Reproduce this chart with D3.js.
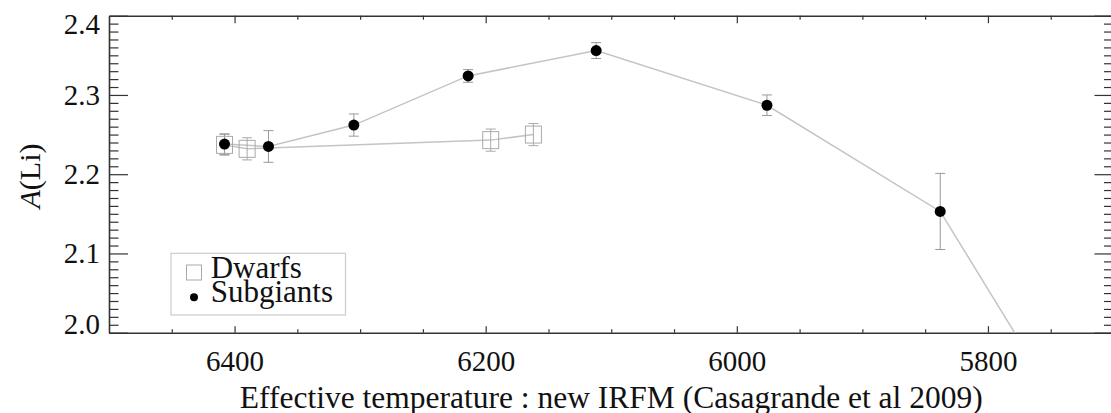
<!DOCTYPE html>
<html lang="en">
<meta charset="utf-8">
<head>
    <script src="https://d3js.org/d3.v7.min.js"></script>
    <style>
        body { margin: 0; background: #fff; }
        svg text { font-family: "Liberation Serif", "Times New Roman", serif; }
    </style>
</head>
<body>
<div id="chart"></div>
<script>
// Subgiants (filled circles) - last point falls below the plotted range
var subTeff = [6408, 6373, 6305, 6214, 6112, 5976, 5838, 5740];
var subALi  = [2.238, 2.235, 2.262, 2.324, 2.356, 2.287, 2.153, 1.90];
var subErr  = [0.013, 0.020, 0.014, 0.008, 0.010, 0.013, 0.048, 0.030];

// Dwarfs (open squares)
var dwTeff = [6408, 6390, 6196, 6162];
var dwALi  = [2.237, 2.232, 2.243, 2.250];
var dwErr  = [0.013, 0.014, 0.014, 0.014];

var xMajor = [6400, 6200, 6000, 5800];
var yMajor = [2.0, 2.1, 2.2, 2.3, 2.4];
var legendLabels = ["Dwarfs", "Subgiants"];

var serif = "'Liberation Serif', 'Times New Roman', serif";

var W = 1111, H = 413;
var mLeft = 109, mRight = 1113.5, mTop = 15.7, mBottom = 332.7;

var svg = d3.select("#chart").append("svg")
    .attr("width", W).attr("height", H);

var x = d3.scaleLinear().domain([6500, 5700]).range([mLeft, mRight]);
var y = d3.scaleLinear().domain([2.0, 2.4]).range([mBottom, mTop]);

// minor ticks
var xMinor = d3.range(6450, 5700, -50).filter(function(t){ return t % 200 !== 0; });
var yMinor = d3.range(0, 41).map(function(i){ return +(2.0 + i * 0.01).toFixed(2); })
    .filter(function(v){ return Math.round(v * 100) % 10 !== 0; });

var axisColor = "#333";

function styleAxis(g) {
  g.attr("font-family", null).attr("font-size", null);
  g.select(".domain").attr("stroke", axisColor).attr("stroke-width", 1.6);
  g.selectAll(".tick line").attr("stroke", axisColor).attr("stroke-width", 1.2);
}

// bottom axis
var gb = svg.append("g").attr("transform", "translate(0," + mBottom + ")")
  .call(d3.axisBottom(x).tickValues(xMajor).tickSizeInner(-6.5).tickSizeOuter(0).tickFormat(d3.format("d")));
styleAxis(gb);
gb.selectAll(".tick text").attr("y", 38).attr("dy", null)
  .style("font-family", serif).style("font-size", "29px").attr("fill", "#111");
svg.append("g").attr("transform", "translate(0," + mBottom + ")")
  .call(d3.axisBottom(x).tickValues(xMinor).tickSizeInner(-3.5).tickSizeOuter(0).tickFormat(""))
  .call(styleAxis).select(".domain").remove();

// top axis
var gt = svg.append("g").attr("transform", "translate(0," + mTop + ")")
  .call(d3.axisTop(x).tickValues(xMajor).tickSizeInner(-7.5).tickSizeOuter(0).tickFormat(""));
styleAxis(gt);
svg.append("g").attr("transform", "translate(0," + mTop + ")")
  .call(d3.axisTop(x).tickValues(xMinor).tickSizeInner(-4).tickSizeOuter(0).tickFormat(""))
  .call(styleAxis).select(".domain").remove();

// left axis
var gl = svg.append("g").attr("transform", "translate(" + mLeft + ",0)")
  .call(d3.axisLeft(y).tickValues(yMajor).tickSizeInner(-19).tickSizeOuter(0).tickFormat(d3.format(".1f")));
styleAxis(gl);
gl.selectAll(".tick text").attr("x", -9)
  .style("font-family", serif).style("font-size", "29px").attr("fill", "#111")
  .attr("dy", function(d){ return d === 2.4 ? "0.61em" : (d === 2.0 ? "0.02em" : "0.32em"); });
svg.append("g").attr("transform", "translate(" + mLeft + ",0)")
  .call(d3.axisLeft(y).tickValues(yMinor).tickSizeInner(-9.5).tickSizeOuter(0).tickFormat(""))
  .call(styleAxis).select(".domain").remove();

// right axis
var gr = svg.append("g").attr("transform", "translate(" + mRight + ",0)")
  .call(d3.axisRight(y).tickValues(yMajor).tickSizeInner(-19).tickSizeOuter(0).tickFormat(""));
styleAxis(gr);
svg.append("g").attr("transform", "translate(" + mRight + ",0)")
  .call(d3.axisRight(y).tickValues(yMinor).tickSizeInner(-9.5).tickSizeOuter(0).tickFormat(""))
  .call(styleAxis).select(".domain").remove();

// clip to plot area
svg.append("clipPath").attr("id", "plotclip").append("rect")
  .attr("x", mLeft).attr("y", mTop).attr("width", mRight - mLeft).attr("height", mBottom - mTop);

var plot = svg.append("g").attr("clip-path", "url(#plotclip)");

var sub = subTeff.map(function(t, i){ return {t: t, a: subALi[i], e: subErr[i]}; });
var dw = dwTeff.map(function(t, i){ return {t: t, a: dwALi[i], e: dwErr[i]}; });

var line = d3.line().x(function(d){ return x(d.t); }).y(function(d){ return y(d.a); });

plot.append("path").datum(dw).attr("d", line)
  .attr("fill", "none").attr("stroke", "#c4c4c4").attr("stroke-width", 1.5);
plot.append("path").datum(sub).attr("d", line)
  .attr("fill", "none").attr("stroke", "#c4c4c4").attr("stroke-width", 1.5);

function errorBars(data, color) {
  var g = plot.append("g").attr("stroke", color).attr("stroke-width", 1).attr("fill", "none");
  data.forEach(function(d){
    var cx = x(d.t), y0 = y(d.a - d.e), y1 = y(d.a + d.e);
    g.append("line").attr("x1", cx).attr("x2", cx).attr("y1", y0).attr("y2", y1);
    g.append("line").attr("x1", cx - 5).attr("x2", cx + 5).attr("y1", y0).attr("y2", y0);
    g.append("line").attr("x1", cx - 5).attr("x2", cx + 5).attr("y1", y1).attr("y2", y1);
  });
}
errorBars(dw, "#aaa");
errorBars(sub, "#999");

plot.selectAll("rect.dw").data(dw).enter().append("rect")
  .attr("class", "dw")
  .attr("x", function(d){ return x(d.t) - 8; })
  .attr("y", function(d){ return y(d.a) - 8.5; })
  .attr("width", 16).attr("height", 17)
  .attr("fill", "none").attr("stroke", "#aaa").attr("stroke-width", 1);

plot.selectAll("circle.sub").data(sub).enter().append("circle")
  .attr("class", "sub")
  .attr("cx", function(d){ return x(d.t); })
  .attr("cy", function(d){ return y(d.a); })
  .attr("r", 5.5).attr("fill", "#000");

// legend
var lg = svg.append("g");
lg.append("rect").attr("x", 171).attr("y", 253.3).attr("width", 174.5).attr("height", 61.7)
  .attr("fill", "none").attr("stroke", "#ccc").attr("stroke-width", 1.2);
lg.append("rect").attr("x", 186.5).attr("y", 265).attr("width", 15).attr("height", 15)
  .attr("fill", "none").attr("stroke", "#aaa").attr("stroke-width", 1);
lg.append("circle").attr("cx", 194).attr("cy", 297.3).attr("r", 4).attr("fill", "#000");
lg.selectAll("text").data(legendLabels).enter().append("text")
  .attr("x", 210.7)
  .attr("y", function(d, i){ return i === 0 ? 278 : 302; })
  .style("font-family", serif).style("font-size", "31px").attr("fill", "#111")
  .text(function(d){ return d; });

// axis titles
svg.append("text")
  .attr("x", (mLeft + mRight) / 2).attr("y", 407.5)
  .attr("text-anchor", "middle")
  .style("font-family", serif).style("font-size", "31.5px").attr("fill", "#111")
  .text("Effective temperature : new IRFM (Casagrande et al 2009)");

var yt = svg.append("text")
  .attr("transform", "translate(40,176) rotate(-90)")
  .attr("text-anchor", "middle")
  .style("font-family", serif).style("font-size", "30px").attr("fill", "#111");
yt.append("tspan").attr("font-style", "italic").text("A");
yt.append("tspan").text("(Li)");
</script>
</body>
</html>
